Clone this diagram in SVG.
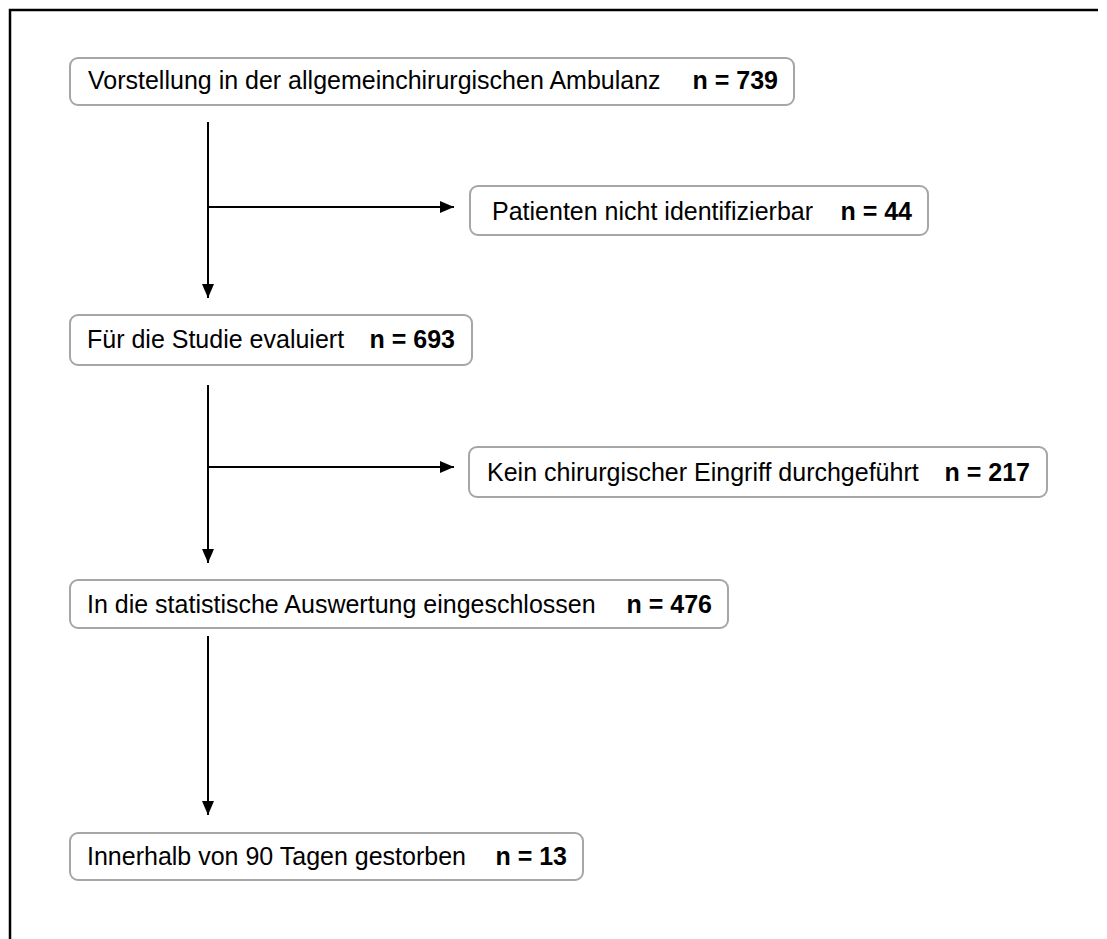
<svg xmlns="http://www.w3.org/2000/svg" width="1107" height="939" viewBox="0 0 1107 939">
<style>
.box{fill:#fff;stroke:#a6a6a6;stroke-width:2}
.t{font-family:"Liberation Sans",Arial,sans-serif;font-size:25px;fill:#000}
.b{font-weight:bold}
.c{fill:none;stroke:#000;stroke-width:2}
</style>
<defs>
<marker id="ah" markerWidth="14" markerHeight="12" refX="14" refY="6" orient="auto" markerUnits="userSpaceOnUse">
<path d="M0,0 L14,6 L0,12 Z" fill="#000"/>
</marker>
</defs>
<rect x="0" y="0" width="1107" height="939" fill="#fff"/>
<path d="M10,940 V10 H1098" fill="none" stroke="#000" stroke-width="2.5"/>
<g id="connectors">
<line class="c" x1="208" y1="122" x2="208" y2="298" marker-end="url(#ah)"/>
<line class="c" x1="208" y1="207" x2="454" y2="207" marker-end="url(#ah)"/>
<line class="c" x1="208" y1="385" x2="208" y2="563" marker-end="url(#ah)"/>
<line class="c" x1="208" y1="467" x2="454" y2="467" marker-end="url(#ah)"/>
<line class="c" x1="208" y1="636" x2="208" y2="815" marker-end="url(#ah)"/>
</g>
<g id="n1">
<rect class="box" x="70" y="58" width="724" height="47" rx="8"/>
<text class="t" x="88" y="89">Vorstellung in der allgemeinchirurgischen Ambulanz</text>
<text class="t b" x="778" y="89" text-anchor="end">n = 739</text>
</g>
<g id="n2">
<rect class="box" x="470" y="186" width="458" height="49" rx="8"/>
<text class="t" x="492" y="220">Patienten nicht identifizierbar</text>
<text class="t b" x="912" y="220" text-anchor="end">n = 44</text>
</g>
<g id="n3">
<rect class="box" x="70" y="315" width="402" height="50" rx="8"/>
<text class="t" x="87" y="348">Für die Studie evaluiert</text>
<text class="t b" x="455" y="348" text-anchor="end">n = 693</text>
</g>
<g id="n4">
<rect class="box" x="469" y="447" width="578" height="50" rx="8"/>
<text class="t" x="487" y="481">Kein chirurgischer Eingriff durchgeführt</text>
<text class="t b" x="1030" y="481" text-anchor="end">n = 217</text>
</g>
<g id="n5">
<rect class="box" x="70" y="580" width="658" height="48" rx="8"/>
<text class="t" x="87" y="613">In die statistische Auswertung eingeschlossen</text>
<text class="t b" x="712" y="613" text-anchor="end">n = 476</text>
</g>
<g id="n6">
<rect class="box" x="70" y="833" width="513" height="47" rx="8"/>
<text class="t" x="87" y="865">Innerhalb von 90 Tagen gestorben</text>
<text class="t b" x="567" y="865" text-anchor="end">n = 13</text>
</g>
</svg>
